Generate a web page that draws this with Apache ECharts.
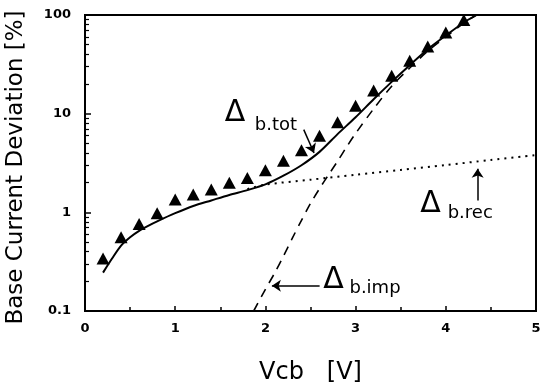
<!DOCTYPE html>
<html><head><meta charset="utf-8">
<script src="https://cdn.jsdelivr.net/npm/echarts@6/dist/echarts.min.js"></script>
<style>html,body{margin:0;padding:0;background:#fff}#c{width:540px;height:385px}</style>
</head><body><div id="c"></div>
<script>
// ---- data ----
const xTickLabels = ['0','1','2','3','4','5'];
const yTickLabels = ['0.1','1','10','100'];

const measX = [0.2,0.4,0.6,0.8,1.0,1.2,1.4,1.6,1.8,2.0,2.2,2.4,2.6,2.8,3.0,3.2,3.4,3.6,3.8,4.0,4.2];
const measY = [0.34,0.56,0.76,0.98,1.35,1.52,1.70,2.0,2.23,2.67,3.34,4.25,5.98,8.2,12.0,17.2,24.2,34.3,47.9,66.3,89];

const totX = [0.2,0.3,0.4,0.5,0.6,0.7,0.8,1.0,1.2,1.4,1.6,1.8,2.0,2.2,2.4,2.6,2.8,3.0,3.2,3.4,3.6,3.8,4.0,4.2,4.34];
const totY = [0.245,0.34,0.46,0.56,0.65,0.73,0.81,0.98,1.16,1.32,1.5,1.68,1.92,2.35,3.0,4.1,6.2,9.2,14.0,21.0,31,45,62,84,100];

const impX = [1.87,2.0,2.1,2.2,2.3,2.4,2.5,2.6,2.7,2.8,2.9,3.0,3.2,3.4,3.6,3.8,4.0,4.2,4.34];
const impY = [0.1,0.166,0.24,0.36,0.55,0.83,1.23,1.74,2.4,3.3,4.6,6.3,11.2,19.0,29,43,60,83,100];

const recX = [1.8,2.0,2.5,3.0,3.5,4.0,4.5,5.0];
const recY = [1.72,1.91,2.14,2.4,2.69,3.02,3.39,3.8];

// ---- annotations (anchor points in data space) ----
const notes = [
  {sub:'b.tot', delta:[1.663,10.1], text:[1.882,7.67], arrow:[[2.425,6.89],[2.539,4.0]]},
  {sub:'b.rec', delta:[3.831,1.197], text:[4.021,0.986], arrow:[[4.353,1.32],[4.353,2.77]]},
  {sub:'b.imp', delta:[2.755,0.205], text:[2.932,0.171], arrow:[[2.601,0.18],[2.072,0.18]]}
];

const zip = (a,b) => a.map((v,i)=>[v,b[i]]);
const FONT = 'DejaVu Sans';

const chart = echarts.init(document.getElementById('c'), null, {renderer:'canvas'});
const option = {
  backgroundColor:'#fff',
  animation:false,
  grid:{left:85, right:4, top:15, bottom:74, show:true, borderColor:'#000', borderWidth:2,
        containLabel:false, outerBoundsMode:'none'},
  xAxis:{
    type:'value', min:0, max:5, interval:1,
    name:'Vcb   [V]', nameLocation:'middle', nameGap:50,
    nameTextStyle:{fontFamily:FONT, fontSize:24, color:'#000'},
    axisLine:{lineStyle:{color:'#000', width:2}},
    axisTick:{inside:true, length:5, lineStyle:{color:'#000', width:1.5}},
    minorTick:{show:true, splitNumber:2, length:4, lineStyle:{color:'#000', width:1.5}},
    splitLine:{show:false},
    axisLabel:{margin:11, fontFamily:FONT, fontWeight:'bold', fontSize:13, color:'#000',
      formatter:(v)=>xTickLabels[Math.round(v)]}
  },
  yAxis:{
    type:'log', logBase:10, min:0.1, max:100,
    name:'Base Current Deviation [%]', nameLocation:'middle', nameGap:57,
    nameTextStyle:{fontFamily:FONT, fontSize:23, color:'#000', padding:[0,9,0,0]},
    axisLine:{lineStyle:{color:'#000', width:2}},
    axisTick:{inside:true, length:6, lineStyle:{color:'#000', width:1.5}},
    minorTick:{show:true, splitNumber:9, length:4, lineStyle:{color:'#000', width:1.2}},
    splitLine:{show:false},
    axisLabel:{margin:14, fontFamily:FONT, fontWeight:'bold', fontSize:13, color:'#000',
      formatter:(v)=>{const i=Math.round(Math.log10(v))+1; return yTickLabels[i];}}
  },
  series:[
    {type:'line', name:'rec', data:zip(recX,recY), smooth:0.3, showSymbol:false,
     lineStyle:{color:'#000', width:2, type:[2,5]}},
    {type:'line', name:'imp', data:zip(impX,impY), smooth:0.3, showSymbol:false,
     lineStyle:{color:'#000', width:1.6, type:[9,7]}},
    {type:'line', name:'tot', data:zip(totX,totY), smooth:0.3, showSymbol:false,
     lineStyle:{color:'#000', width:2},
     markLine:{silent:true, symbol:['none','arrow'], symbolSize:9, label:{show:false},
       lineStyle:{color:'#000', width:1.5, type:'solid'},
       data: notes.map(n=>[{coord:n.arrow[0]},{coord:n.arrow[1]}])}},
    {type:'scatter', name:'meas', data:zip(measX,measY), symbol:'triangle', symbolSize:[13,12],
     itemStyle:{color:'#000', opacity:1}, clip:false}
  ]
};
chart.setOption(option);

const g = [];
notes.forEach(n=>{
  const pd = chart.convertToPixel({gridIndex:0}, n.delta);
  const pt = chart.convertToPixel({gridIndex:0}, n.text);
  g.push({type:'text', x:pd[0], y:pd[1], style:{text:'\u0394', font:'30px "DejaVu Sans"', fill:'#000', align:'center', verticalAlign:'middle'}});
  g.push({type:'text', x:pt[0], y:pt[1], style:{text:n.sub, font:'18px "DejaVu Sans"', fill:'#000', align:'left', verticalAlign:'middle'}});
});
chart.setOption({graphic:g});
</script>
</body></html>
